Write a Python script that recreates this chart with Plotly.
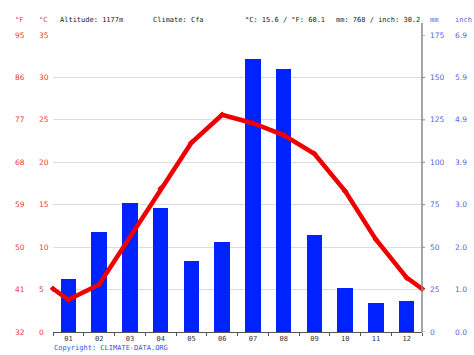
import plotly.graph_objects as go

months = ["01", "02", "03", "04", "05", "06", "07", "08", "09", "10", "11", "12"]
temp_c = [3.8, 5.6, 11.2, 16.9, 22.3, 25.6, 24.6, 23.2, 21.0, 16.6, 10.9, 6.4]
precip_mm = [31.0, 59.2, 75.8, 73.3, 42.1, 53.0, 161.1, 155.0, 57.4, 25.9, 17.1, 18.1]

c_ticks = [0, 5, 10, 15, 20, 25, 30, 35]
f_labels = ["32", "41", "50", "59", "68", "77", "86", "95"]
mm_ticks = [0, 25, 50, 75, 100, 125, 150, 175]
inch_labels = ["0.0", "1.0", "2.0", "3.0", "3.9", "4.9", "5.9", "6.9"]

header_texts = ["Altitude: 1177m", "Climate: Cfa", "°C: 15.6 / °F: 60.1", "mm: 768 / inch: 30.2"]
header_x = [58, 151, 243, 334]

W, H = 474, 355
L, R, T, B = 53, 52, 35, 23
pw = W - L - R
ph = H - T - B

RED = "#e8403a"
BLUE = "#5566dd"
MONO = "DejaVu Sans Mono"
SANS = "DejaVu Sans"

xs = list(range(1, 13))
edge = (temp_c[0] + temp_c[-1]) / 2

fig = go.Figure()
fig.add_trace(go.Bar(x=xs, y=precip_mm, width=0.5, marker=dict(color="#0022ff", line=dict(width=0)),
                     yaxis="y", showlegend=False))
fig.add_trace(go.Scatter(x=[0.5] + xs + [12.5], y=[edge] + temp_c + [edge], mode="lines+markers",
                         line=dict(color="#ee0000", width=4.5), marker=dict(size=5, color="#ee0000", symbol="diamond"),
                         yaxis="y2", showlegend=False, cliponaxis=False))

def px_x(p):
    return (p - L) / pw

def px_y(p):
    return 1 - (p - T) / ph

ann = []
for v, f in zip(c_ticks, f_labels):
    ann.append(dict(x=px_x(37), y=v, xref="paper", yref="y2", text=str(v), showarrow=False,
                    xanchor="left", yanchor="middle", font=dict(family=SANS, size=7.5, color=RED)))
    ann.append(dict(x=px_x(13), y=v, xref="paper", yref="y2", text=f, showarrow=False,
                    xanchor="left", yanchor="middle", font=dict(family=SANS, size=7.5, color=RED)))
for v, i in zip(mm_ticks, inch_labels):
    ann.append(dict(x=px_x(428), y=v, xref="paper", yref="y", text=str(v), showarrow=False,
                    xanchor="left", yanchor="middle", font=dict(family=SANS, size=7.5, color=BLUE)))
    ann.append(dict(x=px_x(453), y=v, xref="paper", yref="y", text=i, showarrow=False,
                    xanchor="left", yanchor="middle", font=dict(family=SANS, size=7.5, color=BLUE)))
for txt, xp, col in [("°F", 13, RED), ("°C", 37, RED), ("mm", 428, BLUE), ("inch", 453, BLUE)]:
    ann.append(dict(x=px_x(xp), y=px_y(20.5), xref="paper", yref="paper", text=txt, showarrow=False,
                    xanchor="left", yanchor="middle", font=dict(family=MONO, size=7, color=col)))
for txt, xp in zip(header_texts, header_x):
    ann.append(dict(x=px_x(xp), y=px_y(20.5), xref="paper", yref="paper", text=txt, showarrow=False,
                    xanchor="left", yanchor="middle", font=dict(family=MONO, size=7, color="#222222")))
ann.append(dict(x=px_x(52), y=px_y(348), xref="paper", yref="paper", text="Copyright: CLIMATE-DATA.ORG",
                showarrow=False, xanchor="left", yanchor="middle", font=dict(family=MONO, size=7, color="#3355dd")))

shapes = [dict(type="line", xref="paper", yref="paper", x0=1, x1=1, y0=0, y1=px_y(23),
               line=dict(color="#888888", width=1.5))]
for v in mm_ticks:
    shapes.append(dict(type="line", xref="paper", yref="y", x0=1, x1=px_x(425), y0=v, y1=v,
                       line=dict(color="#888888", width=1)))

fig.update_layout(
    width=W, height=H, margin=dict(l=L, r=R, t=T, b=B),
    plot_bgcolor="white", paper_bgcolor="white",
    bargap=0, hovermode=False,
    xaxis=dict(range=[0.5, 12.5], tickvals=xs, ticktext=months, ticks="", showgrid=False,
               showline=True, linecolor="#555555", linewidth=1, zeroline=False,
               tickfont=dict(family=MONO, size=7, color="#333333"),
               minor=dict(tickvals=[i + 0.5 for i in range(0, 13)], ticks="outside", ticklen=3,
                          tickcolor="#555555", tickwidth=1, showgrid=False)),
    yaxis=dict(range=[0, 175], tickvals=mm_ticks, showticklabels=False, showgrid=True,
               gridcolor="#dddddd", gridwidth=1, zeroline=False, showline=False, ticks=""),
    yaxis2=dict(range=[0, 35], overlaying="y", side="right", showticklabels=False, showgrid=False,
                zeroline=False, showline=False, ticks=""),
    annotations=ann, shapes=shapes,
)

fig.write_html("out.html", config={"displayModeBar": False},
               post_script="document.body.style.margin='0';document.body.style.padding='0';document.body.style.overflow='hidden';")
